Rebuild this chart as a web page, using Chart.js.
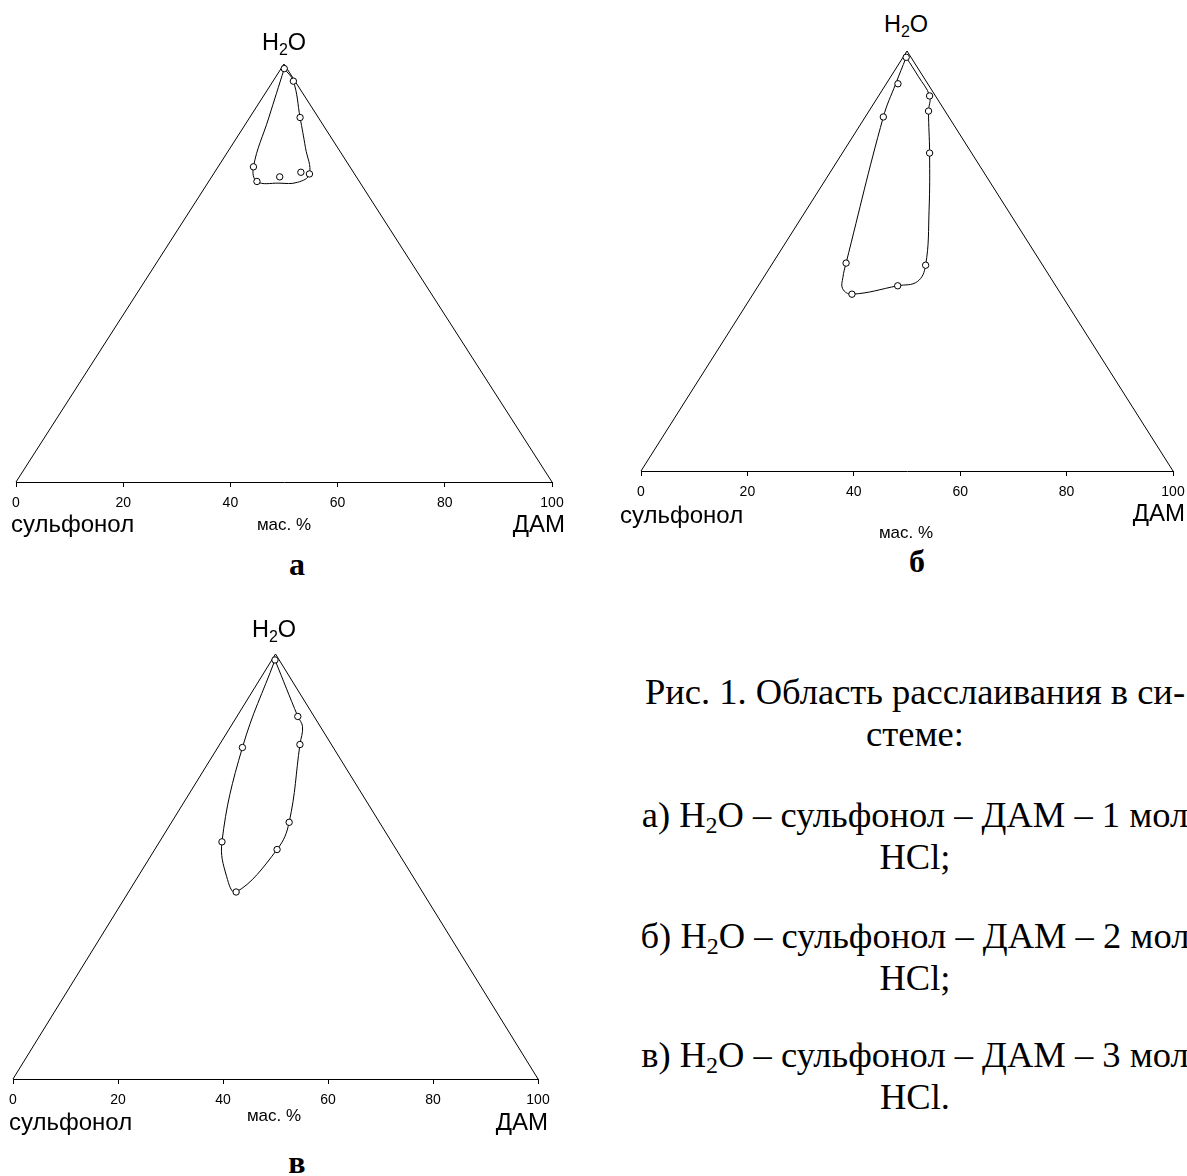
<!DOCTYPE html>
<html>
<head>
<meta charset="utf-8">
<script src="https://cdn.jsdelivr.net/npm/chart.js@4/dist/chart.umd.min.js"></script>
<style>
  html, body { margin: 0; padding: 0; background: #fff; }
  body { width: 1187px; height: 1176px; position: relative; overflow: hidden;
         font-family: "Liberation Sans", Arial, sans-serif; color: #000; }
  canvas { position: absolute; }
  .lbl { position: absolute; white-space: nowrap; line-height: 1; }
  .c { transform: translate(-50%, -50%); }
  .l { transform: translate(0, -50%); }
  .r { transform: translate(-100%, -50%); }
  .comp { font-size: 24px; }
  .h2o { font-size: 23.5px; }
  .unit { font-size: 17px; }
  .tag { font-family: "Liberation Serif", "Times New Roman", serif; font-weight: bold; font-size: 32px; }
  .h2o sub { font-size: 16px; vertical-align: -5px; line-height: 0; }
  #caption { position: absolute; left: 640px; top: 671px; width: 550px; text-align: center; white-space: nowrap;
             font-family: "Liberation Serif", "Times New Roman", serif; font-size: 36.5px; line-height: 42px; }
  #caption p { margin: 0; }
  #caption sub { font-size: 24px; vertical-align: -6px; line-height: 0; }
</style>
</head>
<body>
<canvas id="chartA" width="576" height="468" style="left:1px;top:54px;width:576px;height:468px"></canvas>
<canvas id="chartB" width="572" height="470" style="left:626px;top:41px;width:572px;height:470px"></canvas>
<canvas id="chartC" width="565" height="475" style="left:-2px;top:644px;width:565px;height:475px"></canvas>

<!-- panel а -->
<div class="lbl h2o c" style="left:284px;top:43px">H<sub>2</sub>O</div>
<div class="lbl comp l" style="left:11px;top:524px">сульфонол</div>
<div class="lbl unit c" style="left:284px;top:524px">мас. %</div>
<div class="lbl comp r" style="left:565px;top:524px">ДАМ</div>
<div class="lbl tag c" style="left:297px;top:564px">а</div>

<!-- panel б -->
<div class="lbl h2o c" style="left:906px;top:25px">H<sub>2</sub>O</div>
<div class="lbl comp l" style="left:620px;top:515px">сульфонол</div>
<div class="lbl unit c" style="left:906px;top:532px">мас. %</div>
<div class="lbl comp r" style="left:1185px;top:513px">ДАМ</div>
<div class="lbl tag c" style="left:917px;top:561px">б</div>

<!-- panel в -->
<div class="lbl h2o c" style="left:274px;top:630px">H<sub>2</sub>O</div>
<div class="lbl comp l" style="left:9px;top:1122px">сульфонол</div>
<div class="lbl unit c" style="left:274px;top:1115px">мас. %</div>
<div class="lbl comp r" style="left:548px;top:1122px">ДАМ</div>
<div class="lbl tag c" style="left:297px;top:1162px">в</div>

<div id="caption">
  <p style="margin-bottom:39px">Рис. 1. Область расслаивания в си-<br>стеме:</p>
  <p style="margin-bottom:37px">а) H<sub>2</sub>O – сульфонол – ДАМ – 1 мол<br>HCl;</p>
  <p style="margin-bottom:35px">б) H<sub>2</sub>O – сульфонол – ДАМ – 2 мол<br>HCl;</p>
  <p>в) H<sub>2</sub>O – сульфонол – ДАМ – 3 мол<br>HCl.</p>
</div>

<script>
// Base axis ticks, mass %
const tickValues = [0, 20, 40, 60, 80, 100];

// Pure components (water %, ДАМ %): сульфонол, H2O, ДАМ
const cornerWater = [0, 100, 0];
const cornerDam   = [0, 0, 100];

// а) 1 mol HCl — measured compositions (сульфонол = 100 − water − ДАМ)
const waterA = [98.9, 95.9, 87.2, 75.4, 74.1, 73.7, 73.0, 71.9];
const damA   = [0.6, 3.8, 9.4, 6.6, 16.1, 17.9, 12.7, 9.0];
// binodal curve, а
const curveWaterA = [98.9, 95.9, 87.2, 80.0, 73.7, 71.7, 71.5, 71.9, 75.4, 87.1, 98.9];
const curveDamA   = [0.6, 3.8, 9.4, 14.0, 17.9, 16.7, 13.3, 9.0, 6.6, 3.6, 0.6];

// б) 2 mol HCl
const waterB = [98.5, 92.2, 89.3, 85.7, 84.3, 75.7, 49.5, 49.0, 44.1, 42.1];
const damB   = [0.6, 2.2, 9.6, 11.2, 3.4, 16.4, 13.8, 29.0, 26.2, 18.6];
const curveWaterB = [98.5, 94.0, 89.3, 85.7, 75.7, 62.1, 49.0, 45.1, 44.1, 42.1, 43.4, 46.1, 49.5, 84.3, 92.1, 98.5];
const curveDamB   = [0.6, 5.1, 9.6, 11.2, 16.4, 23.1, 29.0, 29.4, 26.2, 18.6, 16.2, 14.9, 13.8, 3.4, 1.8, 0.6];

// в) 3 mol HCl
const waterC = [98.6, 85.3, 78.7, 78.0, 60.4, 55.8, 54.0, 44.0];
const damC   = [0.6, 11.6, 15.3, 4.7, 22.4, 11.9, 23.3, 20.5];
const curveWaterC = [98.6, 85.3, 82.9, 78.7, 60.4, 54.0, 44.0, 47.6, 55.8, 78.0, 98.6];
const curveDamC   = [0.6, 11.6, 13.7, 15.3, 22.4, 23.3, 20.5, 16.9, 11.9, 4.7, 0.6];

// ternary composition -> plane coordinates (base runs сульфонол → ДАМ, height = water)
function toXY(water, dam) {
  return water.map((w, i) => ({ x: dam[i] + w / 2, y: w }));
}

function drawDiagram(id, water, dam, curveWater, curveDam) {
  const ctx = document.getElementById(id).getContext('2d');
  return new Chart(ctx, {
    type: 'scatter',
    data: {
      datasets: [
        {
          label: 'points',
          data: toXY(water, dam),
          showLine: false,
          pointRadius: 3.2,
          pointBackgroundColor: '#fff',
          pointBorderColor: '#000',
          pointBorderWidth: 1,
          clip: false
        },
        {
          label: 'binodal',
          data: toXY(curveWater, curveDam),
          showLine: true,
          tension: 0.4,
          borderColor: '#000',
          borderWidth: 1,
          pointRadius: 0,
          fill: false,
          clip: false
        },
        {
          label: 'triangle',
          data: toXY(cornerWater, cornerDam),
          showLine: true,
          tension: 0,
          borderColor: '#000',
          borderWidth: 1,
          pointRadius: 0,
          fill: false,
          clip: false
        }
      ]
    },
    options: {
      responsive: false,
      animation: false,
      events: [],
      layout: { padding: { left: 15, right: 25, top: 10, bottom: 0 } },
      plugins: { legend: { display: false }, tooltip: { enabled: false } },
      scales: {
        x: {
          type: 'linear',
          min: 0,
          max: 100,
          afterBuildTicks: s => { s.ticks = tickValues.map(v => ({ value: v })); },
          afterFit: s => { s.height = 40; },
          border: { display: true, color: '#000', width: 1 },
          grid: { display: true, drawOnChartArea: false, drawTicks: true, tickLength: 5, color: '#000', lineWidth: 1 },
          ticks: {
            color: '#000',
            font: { family: '"Liberation Sans", Arial, sans-serif', size: 14 },
            padding: 8,
            maxRotation: 0,
            autoSkip: false
          }
        },
        y: { type: 'linear', min: 0, max: 100, display: false }
      }
    }
  });
}

drawDiagram('chartA', waterA, damA, curveWaterA, curveDamA);
drawDiagram('chartB', waterB, damB, curveWaterB, curveDamB);
drawDiagram('chartC', waterC, damC, curveWaterC, curveDamC);
</script>
</body>
</html>
